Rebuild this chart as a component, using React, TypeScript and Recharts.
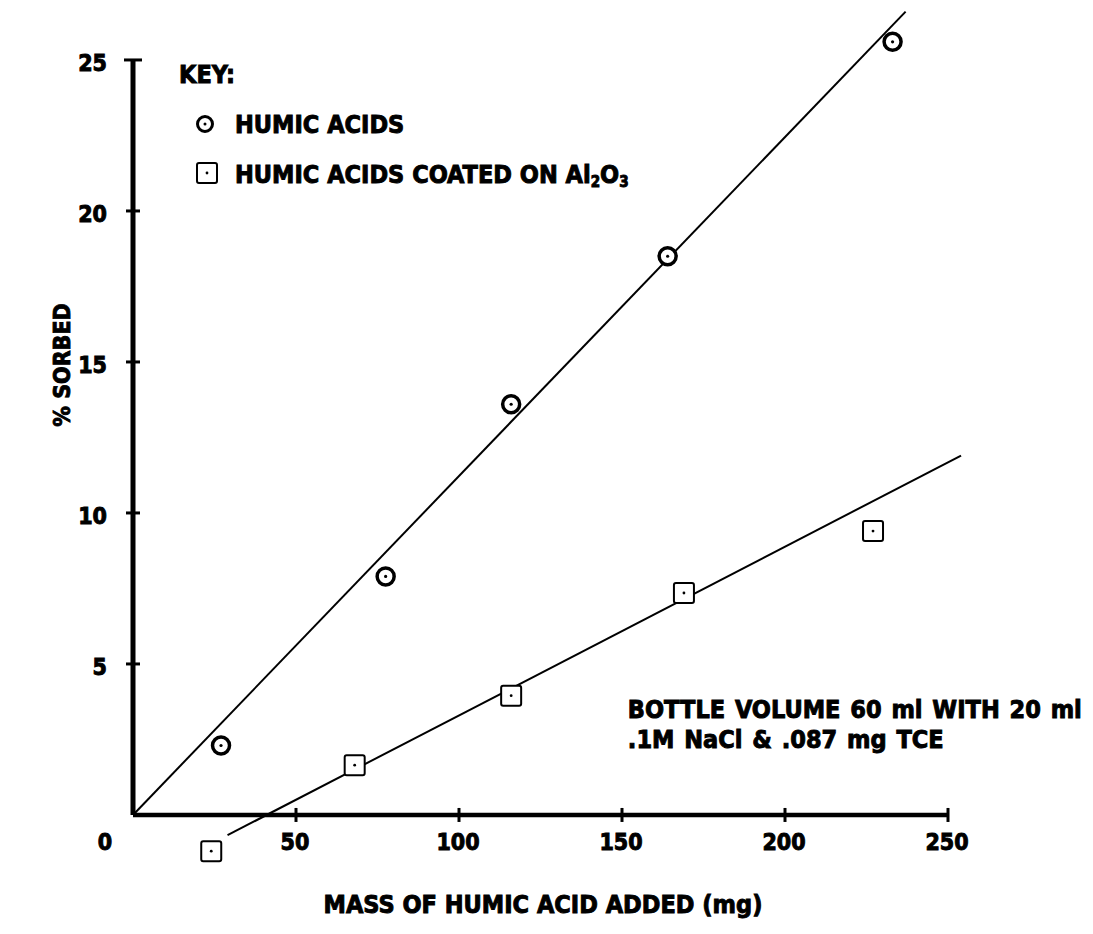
import React from 'react';
import { ScatterChart, Scatter, XAxis, YAxis, ReferenceLine, ReferenceDot, Legend } from 'recharts';

// humic acids (circles)
const humicMass = [27, 77.5, 116, 164, 233];
const humicSorbed = [2.3, 7.9, 13.6, 18.5, 25.6];

// humic acids coated on Al2O3 (squares)
const coatedMass = [24, 68, 116, 169, 227];
const coatedSorbed = [-1.2, 1.65, 3.95, 7.35, 9.4];

// fitted lines, end points as drawn
const humicFitMass = [0, 237];
const humicFitSorbed = [0, 26.6];
const coatedFitMass = [29, 254];
const coatedFitSorbed = [-0.67, 11.9];

const xTicks = [50, 100, 150, 200, 250];
const yTicks = [0, 5, 10, 15, 20, 25];

const toPts = (xs: number[], ys: number[]) => xs.map((x, i) => ({ x, y: ys[i] }));

const W = 1093;
const H = 934;
const X_DOMAIN: [number, number] = [0, 260];
const Y_DOMAIN: [number, number] = [-2.2, 26.8];
const Y_AXIS_W = 20;
const X_AXIS_H = 20;
const MARGIN = { top: 5.6, right: 112.4, bottom: 52.6 - X_AXIS_H, left: 133 - Y_AXIS_W };
const PLOT_H = H - MARGIN.top - MARGIN.bottom - X_AXIS_H;
const AXIS_X = MARGIN.left + Y_AXIS_W;
const AXIS_Y = MARGIN.top + (Y_DOMAIN[1] / (Y_DOMAIN[1] - Y_DOMAIN[0])) * PLOT_H;

const FONT = '"DejaVu Sans Condensed", "Liberation Sans Narrow", "DejaVu Sans", sans-serif';
const INK = '#000';

// heavy, slightly stroked type to match the bold lettering
const txt = { fontFamily: FONT, fontWeight: 700, fill: INK, stroke: INK, strokeWidth: 0.9 } as const;

function XTick(props: any) {
  const { payload } = props;
  const x = payload.coordinate;
  return (
    <g>
      <line x1={x} x2={x} y1={AXIS_Y - 7} y2={AXIS_Y + 7} stroke={INK} strokeWidth={3} />
      <text {...txt} x={x - 1} y={AXIS_Y + 35} fontSize={23} textAnchor="middle">
        {payload.value}
      </text>
    </g>
  );
}

function YTick(props: any) {
  const { payload } = props;
  const y = payload.coordinate;
  if (payload.value === 0) {
    return (
      <text {...txt} x={AXIS_X - 28} y={AXIS_Y + 35} fontSize={23} textAnchor="middle">
        0
      </text>
    );
  }
  const half = payload.value === 25 ? 9 : 7;
  return (
    <g>
      <line x1={AXIS_X - half} x2={AXIS_X + half} y1={y} y2={y} stroke={INK} strokeWidth={3} />
      <text {...txt} x={AXIS_X - 26} y={y + 11} fontSize={23} textAnchor="end">
        {payload.value}
      </text>
    </g>
  );
}

function CircleMark(props: any) {
  const { cx, cy } = props;
  return (
    <g>
      <circle cx={cx} cy={cy} r={8.5} fill="#fff" stroke={INK} strokeWidth={3.5} />
      <circle cx={cx} cy={cy} r={1.6} fill={INK} />
    </g>
  );
}

function SquareMark(props: any) {
  const { cx, cy } = props;
  return (
    <g>
      <rect x={cx - 10} y={cy - 10} width={20} height={20} rx={2} fill="#fff" stroke={INK} strokeWidth={2} />
      <circle cx={cx} cy={cy} r={1.4} fill={INK} />
    </g>
  );
}

const KEY_LEFT = 170;
const KEY_TOP = 50;

function KeyBox() {
  const ox = KEY_LEFT;
  const oy = KEY_TOP;
  return (
    <svg width={500} height={150} style={{ display: 'block' }}>
      <text {...txt} x={179 - ox} y={83 - oy} fontSize={25}>KEY:</text>
      <circle cx={205 - ox} cy={124 - oy} r={7.5} fill="#fff" stroke={INK} strokeWidth={3} />
      <circle cx={205 - ox} cy={124 - oy} r={1.5} fill={INK} />
      <text {...txt} x={235 - ox} y={133 - oy} fontSize={25}>HUMIC ACIDS</text>
      <rect x={197 - ox} y={163 - oy} width={20} height={20} rx={2} fill="#fff" stroke={INK} strokeWidth={2} />
      <circle cx={207 - ox} cy={173 - oy} r={1.4} fill={INK} />
      <text {...txt} x={235 - ox} y={183 - oy} fontSize={25}>
        HUMIC ACIDS COATED ON Al
        <tspan fontSize={15} dy={4}>2</tspan>
        <tspan dy={-4}>O</tspan>
        <tspan fontSize={15} dy={4}>3</tspan>
      </text>
    </svg>
  );
}

function NoteLabel(props: any) {
  const { viewBox } = props;
  const x = viewBox.x;
  const y = viewBox.y;
  return (
    <g>
      <text {...txt} x={x} y={y} fontSize={25} wordSpacing={2}>BOTTLE VOLUME 60 ml WITH 20 ml</text>
      <text {...txt} x={x} y={y + 30} fontSize={25} wordSpacing={2}>.1M NaCl &amp; .087 mg TCE</text>
    </g>
  );
}

export default function App() {
  return (
    <div style={{ position: 'absolute', left: 0, top: 0, width: W, height: H, background: '#fff' }}>
      <ScatterChart width={W} height={H} margin={MARGIN}>
        <XAxis
          type="number"
          dataKey="x"
          domain={X_DOMAIN}
          ticks={xTicks}
          interval={0}
          height={X_AXIS_H}
          axisLine={false}
          tickLine={false}
          tick={XTick}
          label={{
            content: () => (
              <text {...txt} x={543} y={913} fontSize={25} textAnchor="middle">
                MASS OF HUMIC ACID ADDED (mg)
              </text>
            ),
          }}
        />
        <YAxis
          type="number"
          dataKey="y"
          domain={Y_DOMAIN}
          ticks={yTicks}
          interval={0}
          width={Y_AXIS_W}
          axisLine={false}
          tickLine={false}
          tick={YTick}
          label={{
            content: () => (
              <text {...txt} x={70} y={365} fontSize={23} textAnchor="middle" transform="rotate(-90, 70, 365)">
                % SORBED
              </text>
            ),
          }}
        />
        <ReferenceLine segment={[{ x: 0, y: 0 }, { x: 250, y: 0 }]} stroke={INK} strokeWidth={4.5} />
        <ReferenceLine segment={[{ x: 0, y: 0 }, { x: 0, y: 25 }]} stroke={INK} strokeWidth={5} />
        <Scatter
          data={toPts(humicFitMass, humicFitSorbed)}
          line={{ stroke: INK, strokeWidth: 2 }}
          shape={() => <g />}
          isAnimationActive={false}
          legendType="none"
        />
        <Scatter
          data={toPts(coatedFitMass, coatedFitSorbed)}
          line={{ stroke: INK, strokeWidth: 2 }}
          shape={() => <g />}
          isAnimationActive={false}
          legendType="none"
        />
        <Scatter name="HUMIC ACIDS" data={toPts(humicMass, humicSorbed)} shape={CircleMark} isAnimationActive={false} />
        <Scatter
          name="HUMIC ACIDS COATED ON Al2O3"
          data={toPts(coatedMass, coatedSorbed)}
          shape={SquareMark}
          isAnimationActive={false}
        />
        <ReferenceDot x={151.8} y={3.2} r={0} stroke="none" fill="none" label={<NoteLabel />} />
        <Legend
          layout="horizontal"
          verticalAlign="middle"
          align="center"
          wrapperStyle={{ left: KEY_LEFT, top: KEY_TOP, width: 500, height: 150 }}
          content={() => <KeyBox />}
        />
      </ScatterChart>
    </div>
  );
}
